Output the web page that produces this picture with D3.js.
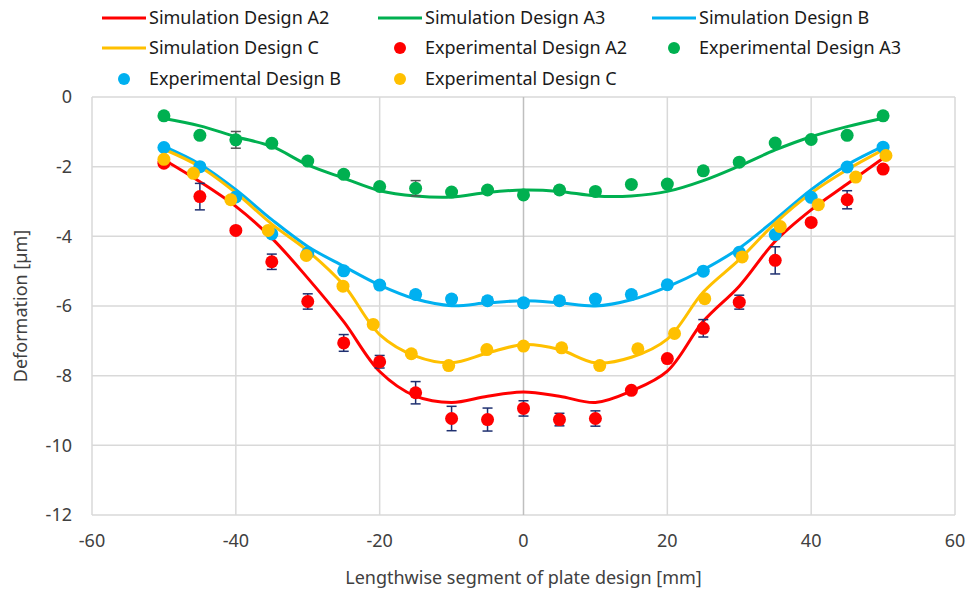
<!DOCTYPE html>
<html>
<head>
<meta charset="utf-8">
<script src="https://cdn.jsdelivr.net/npm/d3@7"></script>
<style>
  body { margin: 0; background: #fff; }
  svg { display: block; font-family: "Noto Sans", sans-serif; }
</style>
</head>
<body>
<div id="chart"></div>
<script>
// simulation curves, sampled every 5 mm
const simX = [-50, -45, -40, -35, -30, -25, -20, -15, -10, -5, 0, 5, 10, 15, 20, 25, 30, 35, 40, 45, 50];
const simA2 = [-1.80, -2.43, -3.14, -4.05, -5.20, -6.45, -7.88, -8.59, -8.77, -8.59, -8.47, -8.59, -8.77, -8.44, -7.87, -6.44, -5.43, -4.14, -3.24, -2.50, -1.76];
const simA3 = [-0.62, -0.83, -1.14, -1.42, -1.95, -2.33, -2.69, -2.84, -2.87, -2.74, -2.67, -2.71, -2.84, -2.84, -2.71, -2.40, -1.98, -1.52, -1.14, -0.85, -0.61];
const simB = [-1.42, -1.93, -2.66, -3.52, -4.29, -4.86, -5.40, -5.80, -5.99, -5.91, -5.85, -5.91, -6.00, -5.82, -5.45, -4.96, -4.34, -3.52, -2.66, -1.95, -1.42];
const simC = [-1.50, -2.00, -2.75, -3.65, -4.42, -5.40, -6.82, -7.44, -7.63, -7.35, -7.11, -7.25, -7.63, -7.47, -6.95, -5.60, -4.67, -3.62, -2.76, -2.09, -1.52];

// experimental points with error (+/-)
const expX = [-50, -45, -40, -35, -30, -25, -20, -15, -10, -5, 0, 5, 10, 15, 20, 25, 30, 35, 40, 45, 50];
const expA2 = [-1.90, -2.86, -3.83, -4.73, -5.87, -7.06, -7.60, -8.49, -9.23, -9.26, -8.94, -9.26, -9.23, -8.42, -7.51, -6.64, -5.89, -4.69, -3.60, -2.95, -2.07];
const errA2 = [0.05, 0.38, 0.08, 0.22, 0.22, 0.24, 0.18, 0.32, 0.35, 0.33, 0.22, 0.18, 0.22, 0.05, 0.08, 0.25, 0.20, 0.39, 0.05, 0.26, 0.05];
const expA3 = [-0.54, -1.10, -1.23, -1.33, -1.84, -2.22, -2.57, -2.62, -2.73, -2.67, -2.81, -2.67, -2.71, -2.51, -2.50, -2.12, -1.87, -1.32, -1.22, -1.10, -0.54];
const errA3 = [0.03, 0.05, 0.24, 0.03, 0.05, 0.10, 0.05, 0.22, 0.07, 0.08, 0.03, 0.10, 0.03, 0.03, 0.03, 0.10, 0.03, 0.03, 0.03, 0.03, 0.03];
const expB = [-1.45, -2.00, -2.87, -3.93, -4.48, -4.99, -5.40, -5.67, -5.80, -5.85, -5.91, -5.85, -5.80, -5.67, -5.39, -5.00, -4.46, -3.95, -2.88, -2.01, -1.44];
const errB = [0.05, 0.05, 0.05, 0.08, 0.08, 0.08, 0.10, 0.10, 0.10, 0.10, 0.10, 0.10, 0.10, 0.10, 0.08, 0.08, 0.08, 0.05, 0.05, 0.05, 0.05];
const expCX = [-50, -45.9, -40.7, -35.5, -30.2, -25.1, -20.9, -15.6, -10.4, -5.1, 0, 5.3, 10.6, 15.9, 21, 25.2, 30.4, 35.7, 41, 46.2, 50.4];
const expC = [-1.79, -2.19, -2.95, -3.83, -4.55, -5.43, -6.53, -7.37, -7.71, -7.25, -7.15, -7.20, -7.71, -7.23, -6.79, -5.79, -4.59, -3.72, -3.09, -2.30, -1.68];
const errC = [0.03, 0.03, 0.03, 0.05, 0.05, 0.05, 0.05, 0.05, 0.05, 0.05, 0.05, 0.05, 0.08, 0.05, 0.05, 0.05, 0.05, 0.05, 0.03, 0.03, 0.03];

const xTicks = [-60, -40, -20, 0, 20, 40, 60];
const yTicks = [0, -2, -4, -6, -8, -10, -12];

const colors = { A2: "#ff0000", A3: "#00b050", B: "#00b0f0", C: "#ffc000" };

const simSeries = [
  { name: "Simulation Design A2", key: "A2", y: simA2 },
  { name: "Simulation Design A3", key: "A3", y: simA3 },
  { name: "Simulation Design B", key: "B", y: simB },
  { name: "Simulation Design C", key: "C", y: simC }
];
const expSeries = [
  { name: "Experimental Design A2", key: "A2", x: expX, y: expA2, err: errA2, barColor: "#1f3070" },
  { name: "Experimental Design A3", key: "A3", x: expX, y: expA3, err: errA3, barColor: "#555555" },
  { name: "Experimental Design B", key: "B", x: expX, y: expB, err: errB, barColor: "#555555" },
  { name: "Experimental Design C", key: "C", x: expCX, y: expC, err: errC, barColor: "#555555" }
];

const width = 967, height = 592;
const margin = { top: 97, right: 12, bottom: 77, left: 92 };

const svg = d3.select("#chart").append("svg")
  .attr("width", width)
  .attr("height", height);

const x = d3.scaleLinear().domain([-60, 60]).range([margin.left, width - margin.right]);
const y = d3.scaleLinear().domain([-12, 0]).range([height - margin.bottom, margin.top]);

// gridlines
const grid = svg.append("g");
grid.selectAll("line.h")
  .data(yTicks)
  .join("line")
  .attr("x1", x(-60)).attr("x2", x(60))
  .attr("y1", d => y(d)).attr("y2", d => y(d))
  .attr("stroke", "#d9d9d9").attr("stroke-width", 1.5);
grid.selectAll("line.v")
  .data(xTicks)
  .join("line")
  .attr("y1", y(0)).attr("y2", y(-12))
  .attr("x1", d => x(d)).attr("x2", d => x(d))
  .attr("stroke", d => (d === 0 ? "#bfbfbf" : "#d9d9d9"))
  .attr("stroke-width", 1.5);

// tick labels
const tickColor = "#404040";
svg.append("g")
  .selectAll("text")
  .data(yTicks)
  .join("text")
  .attr("x", 72)
  .attr("y", d => y(d))
  .attr("dy", "0.35em")
  .attr("text-anchor", "end")
  .attr("font-size", 18)
  .attr("fill", tickColor)
  .text(d => d);
svg.append("g")
  .selectAll("text")
  .data(xTicks)
  .join("text")
  .attr("x", d => x(d))
  .attr("y", 541)
  .attr("dy", "0.35em")
  .attr("text-anchor", "middle")
  .attr("font-size", 18)
  .attr("fill", tickColor)
  .text(d => d);

// axis titles
svg.append("text")
  .attr("x", x(0))
  .attr("y", 578)
  .attr("dy", "0.35em")
  .attr("text-anchor", "middle")
  .attr("font-size", 18)
  .attr("fill", tickColor)
  .text("Lengthwise segment of plate design [mm]");
svg.append("text")
  .attr("transform", `translate(21,${y(-6)}) rotate(-90)`)
  .attr("dy", "0.35em")
  .attr("text-anchor", "middle")
  .attr("font-size", 18)
  .attr("fill", tickColor)
  .text("Deformation [µm]");

// simulation lines
const line = d3.line()
  .x((d, i) => x(simX[i]))
  .y(d => y(d))
  .curve(d3.curveCatmullRom.alpha(0.5));

svg.append("g")
  .selectAll("path")
  .data(simSeries)
  .join("path")
  .attr("d", d => line(d.y))
  .attr("fill", "none")
  .attr("stroke", d => colors[d.key])
  .attr("stroke-width", 3);

// experimental points with error bars
expSeries.forEach(s => {
  const g = svg.append("g");
  const pts = s.y.map((v, i) => ({ x: s.x[i], y: v, e: s.err[i] }));
  const bars = g.selectAll("g.bar").data(pts).join("g")
    .attr("stroke", s.barColor).attr("stroke-width", 1.5);
  bars.append("line")
    .attr("x1", d => x(d.x)).attr("x2", d => x(d.x))
    .attr("y1", d => y(d.y + d.e)).attr("y2", d => y(d.y - d.e));
  bars.append("line")
    .attr("x1", d => x(d.x) - 5).attr("x2", d => x(d.x) + 5)
    .attr("y1", d => y(d.y + d.e)).attr("y2", d => y(d.y + d.e));
  bars.append("line")
    .attr("x1", d => x(d.x) - 5).attr("x2", d => x(d.x) + 5)
    .attr("y1", d => y(d.y - d.e)).attr("y2", d => y(d.y - d.e));
  g.selectAll("circle").data(pts).join("circle")
    .attr("cx", d => x(d.x))
    .attr("cy", d => y(d.y))
    .attr("r", 6.5)
    .attr("fill", colors[s.key]);
});

// legend
const legendItems = [
  { type: "line", s: simSeries[0] }, { type: "line", s: simSeries[1] }, { type: "line", s: simSeries[2] },
  { type: "line", s: simSeries[3] }, { type: "dot", s: expSeries[0] }, { type: "dot", s: expSeries[1] },
  { type: "dot", s: expSeries[2] }, { type: "dot", s: expSeries[3] }
];
const colX = [124, 400, 674];
const rowY = [18, 48, 79];
const legend = svg.append("g")
  .selectAll("g")
  .data(legendItems)
  .join("g")
  .attr("transform", (d, i) => `translate(${colX[i % 3]},${rowY[Math.floor(i / 3)]})`);
legend.filter(d => d.type === "line").append("line")
  .attr("x1", -22).attr("x2", 22)
  .attr("stroke", d => colors[d.s.key])
  .attr("stroke-width", 3);
legend.filter(d => d.type === "dot").append("circle")
  .attr("r", 6)
  .attr("fill", d => colors[d.s.key]);
legend.append("text")
  .attr("x", 25)
  .attr("dy", "0.35em")
  .attr("font-size", 18)
  .attr("fill", "#1a1a1a")
  .text(d => d.s.name);
</script>
</body>
</html>
